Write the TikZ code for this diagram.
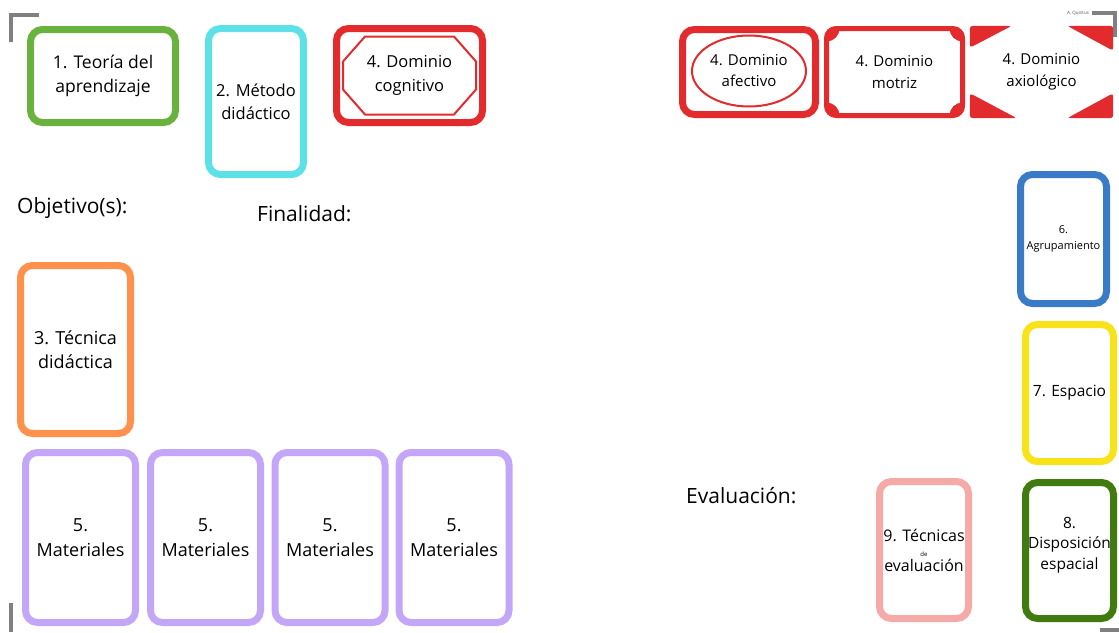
\documentclass[tikz,border=0pt]{standalone}
\usepackage{fontspec}
\setmainfont{Open Sans}
\usetikzlibrary{shapes.geometric}

\definecolor{teoriagreen}{HTML}{6AB23E}
\definecolor{metodocyan}{HTML}{5CE1E6}
\definecolor{dominiored}{HTML}{E32B2D}
\definecolor{tecnicaorange}{HTML}{FF914D}
\definecolor{matpurple}{HTML}{C4A6F8}
\definecolor{grupoblue}{HTML}{3A7BC8}
\definecolor{espacioyellow}{HTML}{F8E31A}
\definecolor{disposgreen}{HTML}{3F7B0E}
\definecolor{evalpink}{HTML}{F5AAA7}
\definecolor{markgray}{HTML}{808080}

\tikzset{
  card/.style={draw=#1, line width=7pt, rounded corners=12pt, fill=white,
    align=center, inner sep=0pt, font=\fontsize{18}{24.5}\selectfont},
  cornermark/.style={draw=markgray, line width=4pt},
  heading/.style={anchor=west, inner sep=0pt, font=\fontsize{21}{24}\selectfont},
}

\begin{document}
\begin{tikzpicture}[x=1pt,y=-1pt]
        \useasboundingbox (0,0) rectangle (1119,632);
        % Corner marks
        \draw[cornermark] (11,42) -- (11,15) -- (39,15);
        \draw[cornermark] (1092,13) -- (1115,13) -- (1115,37);
        \draw[cornermark] (11,603) -- (11,632);
        \draw[cornermark] (1100,630) -- (1119,630);
        \node[font=\fontsize{4.5}{5}\selectfont, text=black!70] (autor) at (1078,13) {A. Quintus};
        % Top row
        \node[card=teoriagreen, minimum width=145pt, minimum height=93pt,
          font=\fontsize{17.5}{24.5}\selectfont] (teoria) at (103,76) {1. Teoría del\\aprendizaje};
        \node[card=metodocyan, minimum width=95pt, minimum height=146pt,
          font=\fontsize{16.5}{23}\selectfont] (metodo) at (256,101.5) {2. Método\\didáctico};
        \node[card=dominiored, minimum width=146pt, minimum height=94pt,
          font=\fontsize{16.5}{24}\selectfont] (cognitivo) at (409.5,75.5) {4. Dominio\\cognitivo};
        \draw[dominiored, line width=2pt] (cognitivo.center) ++(-44.5,-39) -- ++(89,0) -- ++(22,25) -- ++(0,28)
          -- ++(-22,25) -- ++(-89,0) -- ++(-22,-25) -- ++(0,-28) -- cycle;
        \node[card=dominiored, minimum width=133pt, minimum height=85pt] (afectivo) at (749,72) {};
        \node[ellipse, draw=dominiored, line width=2pt, minimum width=114pt, minimum height=71pt, inner sep=0pt,
          align=center, font=\fontsize{15}{21}\selectfont] (afectivotxt) at (749,71) {4. Dominio\\afectivo};
        \node[card=dominiored, line width=5pt, minimum width=136pt, minimum height=87pt,
          font=\fontsize{15}{22}\selectfont] (motriz) at (894.5,72) {4. Dominio\\motriz};
        \begin{scope}
          \clip[rounded corners=12pt] (motriz.north west) rectangle (motriz.south east);
          \fill[dominiored] ([shift={(2.5,2.5)}]motriz.north west) circle (13) ([shift={(-2.5,2.5)}]motriz.north east) circle (13)
            ([shift={(2.5,-2.5)}]motriz.south west) circle (13) ([shift={(-2.5,-2.5)}]motriz.south east) circle (13);
        \end{scope}
        \node[minimum width=143pt, minimum height=92pt, inner sep=0pt, align=center,
          font=\fontsize{15}{22}\selectfont] (axiologico) at (1041.5,72) {4. Dominio\\axiológico};
        \fill[dominiored, rounded corners=3pt] (axiologico.north west) -- ++(42,0) -- ++(-42,22) -- cycle;
        \fill[dominiored, rounded corners=3pt] (axiologico.north east) -- ++(-46,0) -- ++(46,25) -- cycle;
        \fill[dominiored, rounded corners=3pt] (axiologico.south west) -- ++(47,0) -- ++(-47,-25) -- cycle;
        \fill[dominiored, rounded corners=3pt] (axiologico.south east) -- ++(-46,0) -- ++(46,-25) -- cycle;
        % Headings
        \node[heading] (objetivo) at (17,208) {Objetivo(s):};
        \node[heading] (finalidad) at (257,214) {Finalidad:};
        \node[heading] (evaluacion) at (686,496) {Evaluación:};
        % Left column and materials
        \node[card=tecnicaorange, minimum width=110pt, minimum height=168pt] (tecnica) at (75.5,349.5) {3. Técnica\\didáctica};
        \foreach \i/\x in {1/80.5,2/205.5,3/330,4/454}
          \node[card=matpurple, minimum width=110pt, minimum height=170pt] (mat\i) at (\x,537.5) {5.\\Materiales};
        % Right column
        \node[card=grupoblue, minimum width=86pt, minimum height=129pt,
          font=\fontsize{11}{16}\selectfont] (agrupamiento) at (1063.5,239) {6.\\Agrupamiento};
        \node[card=espacioyellow, minimum width=88pt, minimum height=137pt,
          font=\fontsize{15.5}{22}\selectfont] (espacio) at (1069.5,393) {7. Espacio};
        \node[card=disposgreen, minimum width=88pt, minimum height=136pt,
          font=\fontsize{15.5}{20.5}\selectfont] (disposicion) at (1069.5,550.5) {8.\\Disposición\\espacial\\[-6pt]};
        \node[card=evalpink, minimum width=89pt, minimum height=137pt,
          font=\fontsize{16}{15}\selectfont] (tecnicaseval) at (924,550) {9. Técnicas\\{\fontsize{6}{9}\selectfont de}\\evaluación};
    \end{tikzpicture}
\end{document}
